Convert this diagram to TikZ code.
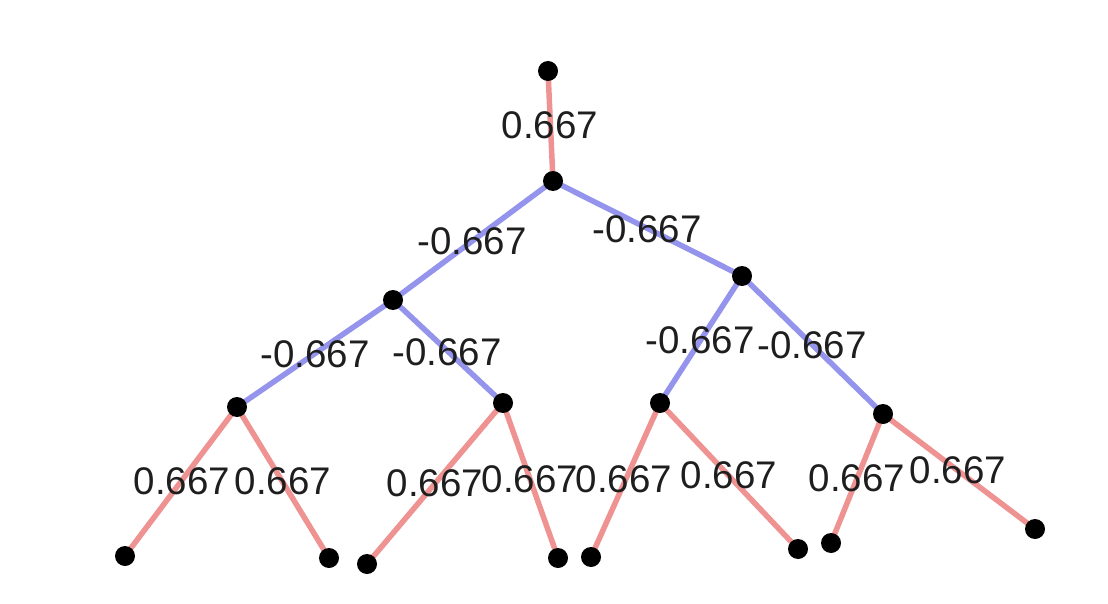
\documentclass[tikz,border=0pt]{standalone}
\usepackage{fontspec}
\setmainfont{Liberation Sans}
\definecolor{redE}{RGB}{238,146,146}
\definecolor{blueE}{RGB}{148,148,236}
\definecolor{txt}{RGB}{30,30,30}
\begin{document}
\begin{tikzpicture}[x=1pt,y=-1pt,
  dot/.style={circle,fill=black,inner sep=0pt,minimum size=20pt},
  redge/.style={draw=redE,line width=5.5pt},
  bedge/.style={draw=blueE,line width=5.5pt},
  lbl/.style={text=txt,font=\fontsize{38.5}{38.5}\selectfont,inner sep=0pt}]
\useasboundingbox (0,0) rectangle (1108,604);
% node positions
\coordinate (r) at (548,71);
\coordinate (a) at (553,181);
\coordinate (b) at (393,300);
\coordinate (c) at (742,276);
\coordinate (d) at (237,407);
\coordinate (e) at (503,403);
\coordinate (f) at (660,403);
\coordinate (g) at (883,414);
\coordinate (l1) at (125,556);
\coordinate (l2) at (329,558);
\coordinate (l3) at (367,564);
\coordinate (l4) at (558,558);
\coordinate (l5) at (591,557);
\coordinate (l6) at (798,549);
\coordinate (l7) at (831,543);
\coordinate (l8) at (1035,529);
% edges
\draw[redge] (r) -- (a);
\draw[bedge] (a) -- (b);
\draw[bedge] (a) -- (c);
\draw[bedge] (b) -- (d);
\draw[bedge] (b) -- (e);
\draw[bedge] (c) -- (f);
\draw[bedge] (c) -- (g);
\draw[redge] (d) -- (l1);
\draw[redge] (d) -- (l2);
\draw[redge] (e) -- (l3);
\draw[redge] (e) -- (l4);
\draw[redge] (f) -- (l5);
\draw[redge] (f) -- (l6);
\draw[redge] (g) -- (l7);
\draw[redge] (g) -- (l8);
% dots
\foreach \n in {r,a,b,c,d,e,f,g,l1,l2,l3,l4,l5,l6,l7,l8}
  \node[dot] (n\n) at (\n) {};
% labels
\node[lbl] (t1) at (550,125) {0.667};
\node[lbl] (t2) at (472,241) {-0.667};
\node[lbl] (t3) at (647,229) {-0.667};
\node[lbl] (t4) at (315,354) {-0.667};
\node[lbl] (t5) at (447,352) {-0.667};
\node[lbl] (t6) at (700,340) {-0.667};
\node[lbl] (t7) at (812,345) {-0.667};
\node[lbl] (t8) at (182,481) {0.667};
\node[lbl] (t9) at (283,481) {0.667};
\node[lbl] (t10) at (435,483) {0.667};
\node[lbl] (t11) at (530,479) {0.667};
\node[lbl] (t12) at (624,479) {0.667};
\node[lbl] (t13) at (729,475) {0.667};
\node[lbl] (t14) at (857,478) {0.667};
\node[lbl] (t15) at (958,470) {0.667};
\end{tikzpicture}
\end{document}
